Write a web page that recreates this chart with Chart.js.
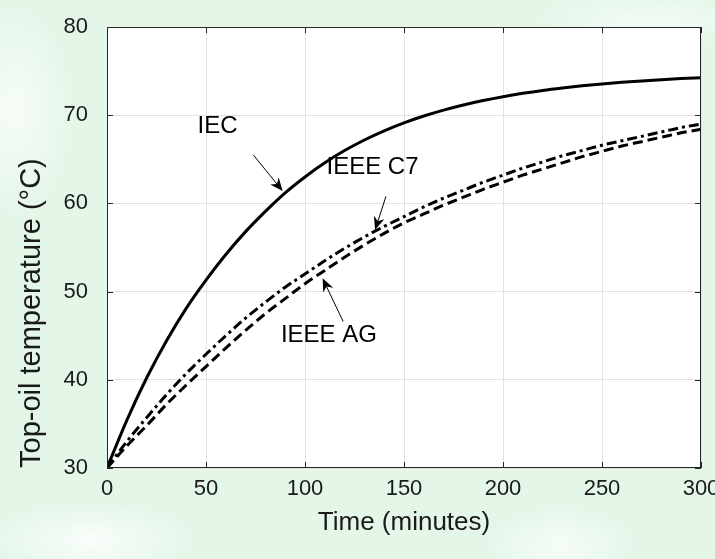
<!DOCTYPE html>
<html>
<head>
<meta charset="utf-8">
<title>Top-oil temperature</title>
<script src="https://cdn.jsdelivr.net/npm/chart.js@4.4.1/dist/chart.umd.min.js"></script>
<style>
  html, body { margin: 0; padding: 0; }
  body {
    width: 715px;
    height: 559px;
    overflow: hidden;
    background:
      radial-gradient(ellipse 60px 110px at 15px 110px, rgba(255,255,255,0.75), rgba(255,255,255,0)),
      radial-gradient(ellipse 110px 40px at 90px 540px, rgba(255,255,255,0.8), rgba(255,255,255,0)),
      radial-gradient(ellipse 80px 40px at 560px 545px, rgba(255,255,255,0.7), rgba(255,255,255,0)),
      radial-gradient(ellipse 120px 30px at 650px 20px, rgba(255,255,255,0.6), rgba(255,255,255,0)),
      #e3f6e8;
  }
  #wrap { position: relative; width: 715px; height: 559px; }
</style>
</head>
<body>
<div id="wrap"><canvas id="chart" width="715" height="559"></canvas></div>
<script>
// time axis, minutes
const times = [0, 10, 20, 30, 40, 50, 60, 70, 80, 90, 100, 110, 120, 130, 140, 150,
  160, 170, 180, 190, 200, 210, 220, 230, 240, 250, 260, 270, 280, 290, 300];

// top-oil temperature (°C) for each model
const iecTemp = [30.0, 35.4, 40.2, 44.4, 48.1, 51.3, 54.2, 56.8, 59.1, 61.2, 63.0, 64.6, 65.99, 67.19, 68.23, 69.13,
  69.91, 70.58, 71.16, 71.66, 72.1, 72.48, 72.81, 73.09, 73.34, 73.55, 73.73, 73.89, 74.03, 74.15, 74.25];
const ieeeC7Temp = [30.0, 33.0, 35.7, 38.3, 40.7, 42.9, 45.0, 47.0, 48.8, 50.5, 52.0, 53.5, 54.9, 56.2, 57.4, 58.5,
  59.6, 60.6, 61.5, 62.4, 63.2, 64.0, 64.7, 65.4, 66.0, 66.6, 67.1, 67.6, 68.1, 68.6, 69.0];
const ieeeAgTemp = [30.0, 32.5, 34.8, 37.2, 39.4, 41.5, 43.6, 45.6, 47.5, 49.2, 50.9, 52.4, 53.9, 55.3, 56.6, 57.8,
  58.8, 59.8, 60.7, 61.6, 62.4, 63.2, 63.9, 64.6, 65.3, 65.9, 66.5, 67.0, 67.5, 68.0, 68.4];

const xTicks = [0, 50, 100, 150, 200, 250, 300];
const yTicks = [30, 40, 50, 60, 70, 80];

// curve labels with arrows, in data units (minutes, °C)
const curveNames = ['IEC', 'IEEE C7', 'IEEE AG'];
const namePos = [[55.8, 68.7], [134.1, 64.1], [112.1, 45.0]];
const arrowFrom = [[73.9, 65.5], [140.9, 60.8], [119.3, 46.6]];
const arrowTo = [[88.7, 61.4], [135.4, 57.0], [108.9, 51.5]];

const FONT = "'Liberation Sans', Arial, Helvetica, sans-serif";
const AXIS_COLOR = '#262626';

Chart.defaults.font.family = FONT;
Chart.defaults.color = '#1a1a1a';

function toPoints(ys) {
  return times.map((t, i) => ({ x: t, y: ys[i] }));
}

function drawArrow(ctx, x0, y0, x1, y1) {
  const ang = Math.atan2(y1 - y0, x1 - x0);
  const len = 13, half = 5.5, notch = 4;
  ctx.beginPath();
  ctx.moveTo(x0, y0);
  ctx.lineTo(x1 - Math.cos(ang) * (len - notch), y1 - Math.sin(ang) * (len - notch));
  ctx.stroke();
  ctx.save();
  ctx.translate(x1, y1);
  ctx.rotate(ang);
  ctx.beginPath();
  ctx.moveTo(0, 0);
  ctx.lineTo(-len, -half);
  ctx.lineTo(-len + notch, 0);
  ctx.lineTo(-len, half);
  ctx.closePath();
  ctx.fill();
  ctx.restore();
}

// white plot box, full frame with inward ticks, then the labels and arrows
const boxPlugin = {
  id: 'boxPlugin',
  beforeDraw(chart) {
    const { ctx, chartArea: a } = chart;
    ctx.save();
    ctx.fillStyle = '#ffffff';
    ctx.fillRect(a.left, a.top, a.right - a.left, a.bottom - a.top);
    ctx.restore();
  },
  afterDatasetsDraw(chart) {
    const { ctx, chartArea: a, scales: { x, y } } = chart;
    const tick = 6;
    ctx.save();
    ctx.strokeStyle = AXIS_COLOR;
    ctx.lineWidth = 1;
    ctx.strokeRect(Math.round(a.left) + 0.5, Math.round(a.top) + 0.5,
      Math.round(a.right - a.left) - 1, Math.round(a.bottom - a.top) - 1);
    ctx.beginPath();
    x.ticks.forEach(t => {
      const px = Math.round(x.getPixelForValue(t.value)) + 0.5;
      ctx.moveTo(px, a.bottom); ctx.lineTo(px, a.bottom - tick);
      ctx.moveTo(px, a.top); ctx.lineTo(px, a.top + tick);
    });
    y.ticks.forEach(t => {
      const py = Math.round(y.getPixelForValue(t.value)) + 0.5;
      ctx.moveTo(a.left, py); ctx.lineTo(a.left + tick, py);
      ctx.moveTo(a.right, py); ctx.lineTo(a.right - tick, py);
    });
    ctx.stroke();

    ctx.fillStyle = '#000';
    ctx.strokeStyle = '#000';
    ctx.font = '24px ' + FONT;
    ctx.textAlign = 'center';
    ctx.textBaseline = 'middle';
    curveNames.forEach((name, i) => {
      ctx.fillText(name, x.getPixelForValue(namePos[i][0]), y.getPixelForValue(namePos[i][1]));
      drawArrow(ctx,
        x.getPixelForValue(arrowFrom[i][0]), y.getPixelForValue(arrowFrom[i][1]),
        x.getPixelForValue(arrowTo[i][0]), y.getPixelForValue(arrowTo[i][1]));
    });
    ctx.restore();
  }
};

const lineStyle = {
  borderColor: '#000',
  borderWidth: 3,
  pointRadius: 0,
  fill: false,
  cubicInterpolationMode: 'monotone',
  borderCapStyle: 'butt'
};

new Chart(document.getElementById('chart'), {
  type: 'line',
  data: {
    datasets: [
      { label: 'IEC', data: toPoints(iecTemp), ...lineStyle },
      { label: 'IEEE C7', data: toPoints(ieeeC7Temp), ...lineStyle, borderDash: [10, 4, 3, 4] },
      { label: 'IEEE AG', data: toPoints(ieeeAgTemp), ...lineStyle, borderDash: [10, 5] }
    ]
  },
  options: {
    responsive: false,
    animation: false,
    layout: { padding: { top: 27, right: 14, left: 0, bottom: 0 } },
    plugins: {
      legend: { display: false },
      tooltip: { enabled: false }
    },
    scales: {
      x: {
        type: 'linear',
        min: 0,
        max: 300,
        afterBuildTicks: s => { s.ticks = xTicks.map(v => ({ value: v })); },
        afterFit: s => { s.height = 91; s.paddingLeft = 0; s.paddingRight = 0; },
        grid: { color: '#e2e2e2', drawTicks: false },
        border: { display: false },
        ticks: { padding: 8, maxRotation: 0, autoSkip: false, color: '#1a1a1a', font: { size: 22 } },
        title: {
          display: true,
          text: 'Time (minutes)',
          color: '#1a1a1a',
          font: { size: 26 },
          padding: { top: 0, bottom: 21 }
        }
      },
      y: {
        min: 30,
        max: 80,
        afterBuildTicks: s => { s.ticks = yTicks.map(v => ({ value: v })); },
        afterFit: s => { s.width = 107; s.paddingTop = 0; s.paddingBottom = 0; },
        grid: { color: '#e2e2e2', drawTicks: false },
        border: { display: false },
        ticks: { padding: 19, color: '#1a1a1a', font: { size: 22 } },
        title: {
          display: true,
          text: 'Top-oil temperature (°C)',
          align: 'start',
          color: '#1a1a1a',
          font: { size: 29 },
          padding: { top: 15, bottom: 0 }
        }
      }
    }
  },
  plugins: [boxPlugin]
});
</script>
</body>
</html>
